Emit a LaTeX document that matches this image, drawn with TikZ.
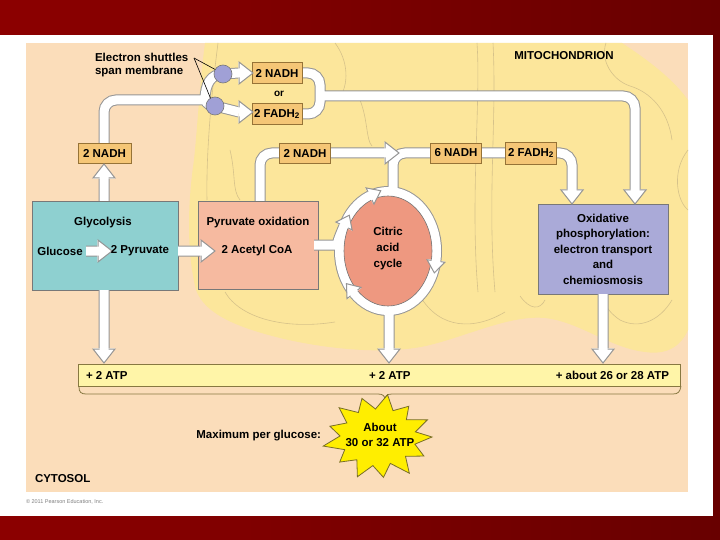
\documentclass[tikz,border=0pt]{standalone}
\usepackage{fontspec}
\setmainfont{Liberation Sans}
\usetikzlibrary{calc}
\definecolor{darkredA}{RGB}{140,0,0}
\definecolor{darkredB}{RGB}{104,0,0}
\definecolor{cyto}{RGB}{251,221,186}
\definecolor{mito}{RGB}{252,230,155}
\definecolor{cristac}{RGB}{214,194,138}
\definecolor{glyc}{RGB}{142,208,208}
\definecolor{pyrc}{RGB}{246,186,160}
\definecolor{citc}{RGB}{238,152,128}
\definecolor{oxc}{RGB}{170,170,216}
\definecolor{lab}{RGB}{245,198,118}
\definecolor{labedge}{RGB}{150,115,55}
\definecolor{atpc}{RGB}{255,245,168}
\definecolor{atpedge}{RGB}{135,120,65}
\definecolor{pipeedge}{RGB}{150,150,150}
\definecolor{boxedge}{RGB}{120,120,120}
\definecolor{shut}{RGB}{160,160,214}
\definecolor{starc}{RGB}{255,238,0}
\definecolor{staredge}{RGB}{120,110,40}
\tikzset{
  hd/.pic={
    \fill[white] (-0.7,-11) -- (14,0) -- (-0.7,11) -- cycle;
    \draw[pipeedge, line width=1pt, line join=miter] (0,-4.5) -- (0,-11) -- (14,0) -- (0,11) -- (0,4.5);
  },
  hds/.pic={
    \fill[white] (-0.7,-9) -- (12,0) -- (-0.7,9) -- cycle;
    \draw[pipeedge, line width=1pt, line join=miter] (0,-4.5) -- (0,-9) -- (12,0) -- (0,9) -- (0,4.5);
  }
}
\begin{document}
\begin{tikzpicture}[x=1pt,y=-1pt,
  every node/.style={inner sep=0pt, outer sep=0pt, font=\bfseries\fontsize{11.5}{13}\selectfont},
  bigbox/.style={draw=boxedge, line width=0.8pt},
  lbox/.style={draw=labedge, fill=lab, line width=0.8pt, minimum height=20pt, minimum width=51pt},
  crista/.style={draw=cristac, line width=0.6pt},
  shuttle/.style={circle, draw=boxedge, fill=shut, line width=0.6pt, minimum size=18pt},
]
\useasboundingbox (0,0) rectangle (720,540);
% slide background
\shade[left color=darkredA, right color=darkredB] (0,0) rectangle (720,540);
\fill[white] (0,35) rectangle (713,516);
% cytosol
\fill[cyto] (26,43) rectangle (688,492);
% mitochondrion
\fill[mito] (205,43) -- (622,43) .. controls (640,55) and (670,75) .. (688,100) -- (688,330)
  .. controls (680,348) and (665,355) .. (645,352) .. controls (610,348) and (580,322) .. (545,318)
  .. controls (510,315) and (470,335) .. (430,345) .. controls (390,355) and (330,350) .. (280,338)
  .. controls (240,328) and (205,315) .. (196,290) .. controls (186,250) and (188,200) .. (194,160)
  .. controls (198,120) and (200,80) .. (205,43) -- cycle;
% cristae / inner membrane lines
\draw[crista] (218,43) .. controls (212,90) and (206,150) .. (207,200);
\draw[crista] (225,292) .. controls (240,318) and (285,330) .. (335,322);
\draw[crista] (335,43) .. controls (348,60) and (350,85) .. (338,100);
\draw[crista] (360,100) .. controls (368,120) and (366,140) .. (372,146);
\draw[crista] (477,43) .. controls (481,100) and (470,200) .. (478,292);
\draw[crista] (493,43) .. controls (497,120) and (487,200) .. (495,292);
\draw[crista] (606,43) .. controls (600,60) and (612,80) .. (630,86) .. controls (650,92) and (668,110) .. (672,140);
\draw[crista] (688,150) .. controls (672,170) and (676,200) .. (688,210);
\draw[crista] (672,300) .. controls (660,320) and (640,330) .. (620,320) .. controls (605,310) and (600,296) .. (604,296);
\draw[crista] (420,296) .. controls (440,330) and (475,330) .. (505,312);
\draw[crista] (520,296) .. controls (530,310) and (540,310) .. (545,300);
\draw[crista] (230,150) .. controls (236,175) and (232,190) .. (240,200);

% big boxes
\node[bigbox, fill=glyc, minimum width=146pt, minimum height=89pt] (gly) at (105,245.5) {};
\node[bigbox, fill=pyrc, minimum width=120pt, minimum height=88pt] (pyr) at (258,245) {};
\node[bigbox, fill=oxc, minimum width=130pt, minimum height=90pt, align=center,
  font=\bfseries\fontsize{11.5}{15.5}\selectfont] (ox) at (603,249)
  {Oxidative\\phosphorylation:\\electron transport\\and\\chemiosmosis};
\node[draw=atpedge, fill=atpc, line width=1pt, minimum width=602pt, minimum height=22pt] (atp) at (379,375) {};

% label boxes positions (defined now for anchors, drawn later)
\path (104.5,153) coordinate (L1) (305,153) coordinate (L2) (456,153) coordinate (L3) (531,153) coordinate (L4)
      (277,73) coordinate (S1) (277,114) coordinate (S2) (223,74) coordinate (c1) (215,106) coordinate (c2);

% pipes (edge pass, then white pass)
\foreach \w/\c in {11/pipeedge,9/white}{
  \draw[line width=\w pt, draw=\c, rounded corners=12pt]
    % glycolysis up to 2 NADH
    (104,201) -- (104,178)
    % 2 NADH to shuttles
    (104,143) -- (104,100) -- (205,100)
    (205,100) .. controls (205,84) and (211,74) .. (c1)
    (205,100) .. controls (207,104) and (210,106) .. (c2)
    % shuttles to boxes
    (c1) -- (239,73)
    (c2) -- (239,112)
    % bracket and long pipe
    (302,73) -- (320,73) -- (320,114) -- (302,114)
    (320,96) -- (635,96) -- (635,190)
    % pyruvate oxidation up
    (260,201) -- (260,153) -- (385,153)
    % exit of citric cycle
    (393,195) -- (393,153) -- (572,153) -- (572,190)
    % acetyl CoA into cycle
    (318,245) -- (326,245) .. controls (336,245) and (340,235) .. (344,226)
    % ring
    (388,251) ellipse [x radius=48.5, y radius=59.5]
    % down arrows
    (104,290) -- (104,349)
    (389,305) -- (389,349)
    (603,294) -- (603,349)
    % inner arrows
    (86,251) -- (98,251)
    (178,251) -- (201,251);
}

% citric acid cycle
\draw[draw=boxedge, line width=0.6pt, fill=citc] (388,251) ellipse [x radius=44, y radius=55];
\node[align=center, font=\bfseries\fontsize{11.5}{16}\selectfont] (cit) at (388,249) {Citric\\acid\\cycle};

% label boxes
\node[lbox, minimum width=53pt] (nadh1) at (L1) {2 NADH};
\node[lbox] (nadh2) at (L2) {2 NADH};
\node[lbox] (nadh6) at (L3) {6 NADH};
\node[lbox, minimum height=22pt] (fadh) at (L4) {2 FADH\textsubscript{2}};
\node[lbox, minimum width=50pt, minimum height=21pt] (snadh) at (S1) {2 NADH};
\node[lbox, minimum width=50pt, minimum height=21pt] (sfadh) at (S2) {2 FADH\textsubscript{2}};
\node[font=\bfseries\fontsize{10}{12}\selectfont] (or) at (279,94) {or};
\node[shuttle] (sh1) at (c1) {};
\node[shuttle] (sh2) at (c2) {};

% arrow heads
\pic[rotate=90] at (104,178) {hd};
\pic at (239,73) {hd};
\pic at (239,112) {hd};
\pic[rotate=-90] at (635,190) {hd};
\pic[rotate=-90] at (572,190) {hd};
\pic at (385,153) {hd};
\pic[rotate=-90] at (104,349) {hd};
\pic[rotate=-90] at (389,349) {hd};
\pic[rotate=-90] at (603,349) {hd};
\pic at (98,251) {hd};
\pic at (201,251) {hd};
% ring heads
\pic[rotate=64] at (344,226) {hds};
\pic[rotate=26] at (370,196) {hds};
\pic[rotate=-98] at (436,261) {hds};
\pic[rotate=129] at (354,293) {hds};

% texts
\node (glyT) at (103,223) {Glycolysis};
\node (glc) at (60,251.5) {Glucose};
\node (pyrv) at (140,250.5) {2 Pyruvate};
\node (pyrT) at (258,223) {Pyruvate oxidation};
\node (acoa) at (257,251) {2 Acetyl CoA};
\node[anchor=west] (atp1) at (86,375) {+ 2 ATP};
\node[anchor=west] (atp2) at (369,375) {+ 2 ATP};
\node[anchor=east] (atp3) at (669,375) {+ about 26 or 28 ATP};
\node[anchor=west] (es1) at (95,57) {Electron shuttles};
\node[anchor=west] (es2) at (95,72) {span membrane};
\coordinate (ptr) at (194,58);
\draw[line width=0.6pt] (ptr) -- (sh1.150);
\draw[line width=0.6pt] (ptr) -- (sh2.120);
\node (mitoT) at (564,56) {MITOCHONDRION};
\node[anchor=west] (cytoT) at (35,479) {CYTOSOL};
\node[anchor=west, font=\fontsize{5.5}{6}\selectfont, text=gray] (copy) at (26,502) {\textcopyright\ 2011 Pearson Education, Inc.};

% brace
\draw[atpedge, line width=0.8pt] (79,387) .. controls (79,392) and (81,394) .. (86,394) -- (378,394)
  .. controls (383,394) and (385,396) .. (385,400) .. controls (385,396) and (387,394) .. (392,394)
  -- (673,394) .. controls (678,394) and (680,392) .. (681,386);

% starburst
\draw[fill=starc, draw=staredge, line width=0.8pt]
  (432,437) \foreach \a/\r in {14/38,28/52,42/37,56/56,70/36,84/52,98/37,112/55,126/36,140/50,154/37,168/56,182/38,196/50,210/36,224/54,238/37,252/52,266/36,280/55,294/37,308/50,322/36,336/54,350/38}
  { -- ({378+\r*cos(\a)},{437+0.78*\r*sin(\a)}) } -- cycle;
\node[align=center, font=\bfseries\fontsize{11.5}{15}\selectfont] (star) at (380,435) {About\\30 or 32 ATP};
\node[anchor=east] (maxT) at (321,436) {Maximum per glucose:};
\end{tikzpicture}
\end{document}
